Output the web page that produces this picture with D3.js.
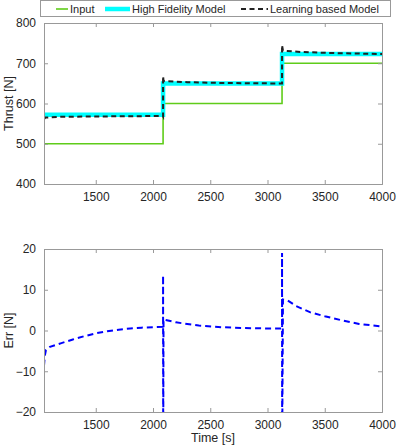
<!DOCTYPE html>
<html>
<head>
<meta charset="utf-8">
<script src="https://cdn.jsdelivr.net/npm/d3@7"></script>
<style>
  body { margin: 0; background: #fff; }
  text { font-family: "Liberation Sans", Arial, sans-serif; }
</style>
</head>
<body>
<svg id="chart"></svg>
<script>
// data
const xTicks = [1500, 2000, 2500, 3000, 3500, 4000];
const thrustTicks = [400, 500, 600, 700, 800];
const errTicks = [-20, -10, 0, 10, 20];

const inputT = [1048, 2088, 2088, 3127, 3127, 4000];
const inputV = [500, 500, 600, 600, 700, 700];

const hfT = [1048, 2088, 2088, 3127, 3127, 4000];
const hfV = [572, 572, 650, 650, 723, 723];

const lbT = [1048, 1060, 1200, 1600, 2086, 2088, 2088, 2092, 2300, 2600, 3000, 3125, 3127, 3127, 3135, 3300, 3600, 4000];
const lbV = [561, 565, 567, 568, 569, 568, 668, 656, 653, 651, 650, 650, 650, 745, 731, 728, 725, 723];

const errT = [1048, 1055, 1065, 1100, 1200, 1300, 1400, 1500, 1600, 1700, 1800, 1900, 2000, 2085, 2088, 2088, 2089, 2092, 2107, 2200, 2400, 2600, 2800, 3000, 3124, 3127, 3127, 3128, 3135, 3175, 3250, 3370, 3500, 3650, 3800, 4000];
const errV = [-8.6, -6.2, -4.8, -4.0, -3.1, -2.2, -1.4, -0.7, -0.2, 0.2, 0.5, 0.7, 0.8, 0.9, 1.5, 13.5, -30, 2.7, 2.6, 2.0, 1.2, 0.8, 0.6, 0.5, 0.5, 1.5, 19, -30, 7.6, 7.4, 6.0, 4.5, 3.5, 2.5, 1.6, 1.0];

const W = 397, H = 447;
const left = 44, right = 382;
const axisGrey = "#999";
const textCol = "#262626";

const svg = d3.select("#chart").attr("width", W).attr("height", H);

const x = d3.scaleLinear().domain([1048, 4000]).range([left, right]);
const yTop = d3.scaleLinear().domain([400, 800]).range([184, 23]);
const yBot = d3.scaleLinear().domain([-20, 20]).range([412, 249]);

function drawAxes(y, yt, top, bottom) {
  const g = svg.append("g");
  g.append("g").attr("transform", `translate(0,${bottom})`)
    .call(d3.axisBottom(x).tickValues(xTicks).tickSize(-4).tickPadding(8).tickFormat(d3.format("d")));
  g.append("g").attr("transform", `translate(0,${top})`)
    .call(d3.axisTop(x).tickValues(xTicks).tickSize(-4).tickFormat(""));
  g.append("g").attr("transform", `translate(${left},0)`)
    .call(d3.axisLeft(y).tickValues(yt).tickSize(-4).tickPadding(8).tickFormat(d3.format("d")));
  g.append("g").attr("transform", `translate(${right},0)`)
    .call(d3.axisRight(y).tickValues(yt).tickSize(-4).tickFormat(""));
  g.selectAll(".domain").attr("stroke", axisGrey);
  g.selectAll(".tick line").attr("stroke", axisGrey);
  g.selectAll(".tick text").attr("fill", textCol).style("font-size", "12px")
    .style("font-family", "Liberation Sans, Arial, sans-serif");
  return g;
}

function clip(id, top, bottom) {
  svg.append("clipPath").attr("id", id).append("rect")
    .attr("x", left).attr("y", top).attr("width", right - left).attr("height", bottom - top);
}
clip("clipTop", 23, 184);
clip("clipBot", 249, 412);

const lineTop = d3.line().x(d => x(d[0])).y(d => yTop(d[1]));
const lineBot = d3.line().x(d => x(d[0])).y(d => yBot(d[1]));

// top panel
const pTop = svg.append("g").attr("clip-path", "url(#clipTop)");
pTop.append("path").datum(d3.zip(inputT, inputV)).attr("d", lineTop)
  .attr("fill", "none").attr("stroke", "#5fcc1a").attr("stroke-width", 1.6);
pTop.append("path").datum(d3.zip(hfT, hfV)).attr("d", lineTop)
  .attr("fill", "none").attr("stroke", "#00ffff").attr("stroke-width", 4.5);
pTop.append("path").datum(d3.zip(lbT, lbV)).attr("d", lineTop)
  .attr("fill", "none").attr("stroke", "#222").attr("stroke-width", 2)
  .attr("stroke-dasharray", "5,3.5");
drawAxes(yTop, thrustTicks, 23, 184);

// bottom panel
const pBot = svg.append("g").attr("clip-path", "url(#clipBot)");
pBot.append("path").datum(d3.zip(errT, errV)).attr("d", lineBot)
  .attr("fill", "none").attr("stroke", "#0000ff").attr("stroke-width", 2)
  .attr("stroke-dasharray", "6,4");
drawAxes(yBot, errTicks, 249, 412);

// axis titles
svg.append("text").attr("transform", `translate(13,${(23 + 184) / 2}) rotate(-90)`)
  .attr("text-anchor", "middle").attr("fill", textCol).style("font-size", "12.5px").text("Thrust [N]");
svg.append("text").attr("transform", `translate(13,${(249 + 412) / 2}) rotate(-90)`)
  .attr("text-anchor", "middle").attr("fill", textCol).style("font-size", "12.5px").text("Err [N]");
svg.append("text").attr("x", (left + right) / 2).attr("y", 442)
  .attr("text-anchor", "middle").attr("fill", textCol).style("font-size", "12.5px").text("Time [s]");

// legend
const leg = svg.append("g");
leg.append("rect").attr("x", 40.5).attr("y", 0.5).attr("width", 350).attr("height", 16)
  .attr("fill", "#fff").attr("stroke", axisGrey);
const items = [
  { name: "Input", x0: 56, x1: 68, color: "#5fcc1a", w: 1.6, dash: null },
  { name: "High Fidelity Model", x0: 105, x1: 130, color: "#00ffff", w: 4.5, dash: null },
  { name: "Learning based Model", x0: 241, x1: 268, color: "#222", w: 2, dash: "5,3.5" }
];
items.forEach(it => {
  leg.append("line").attr("x1", it.x0).attr("x2", it.x1).attr("y1", 9).attr("y2", 9)
    .attr("stroke", it.color).attr("stroke-width", it.w).attr("stroke-dasharray", it.dash);
  leg.append("text").attr("x", it.x1 + 2).attr("y", 13).attr("fill", textCol)
    .style("font-size", "11px").text(it.name);
});
</script>
</body>
</html>
